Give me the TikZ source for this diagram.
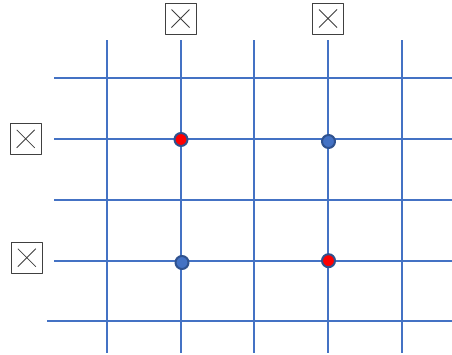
\documentclass[tikz,border=0pt]{standalone}
\usepackage{tikz}
\definecolor{gridblue}{HTML}{4472C4}
\definecolor{rimblue}{HTML}{2F528F}
\begin{document}
\begin{tikzpicture}[x=1pt,y=-1pt,
  line cap=butt,line join=round,
  G/.style={draw=gridblue,line width=1.1pt},
  box/.style={draw=black!75,line width=1pt,fill=white,minimum size=31pt,inner sep=0pt,
    path picture={\draw[black!75,line width=.8pt]
      ([shift={(-9pt,-9pt)}]path picture bounding box.center) -- ([shift={(9pt,9pt)}]path picture bounding box.center)
      ([shift={(-9pt,9pt)}]path picture bounding box.center) -- ([shift={(9pt,-9pt)}]path picture bounding box.center);}},
  qon/.style={draw=rimblue,line width=2pt,circle,fill=red,minimum size=13pt,inner sep=0pt},
  qoff/.style={draw=rimblue,line width=2pt,circle,fill=gridblue,minimum size=13pt,inner sep=0pt}]
  \useasboundingbox (0,0) rectangle (452,354);

  %% ---- vertical grid lines
  \draw[G] (107,40) -- (107,353);
  \draw[G] (181,40) -- (181,353);
  \draw[G] (254,40) -- (254,353);
  \draw[G] (328,40) -- (328,353);
  \draw[G] (402,40) -- (402,353);

  %% ---- horizontal grid lines
  \draw[G] (54,78) -- (452,78);
  \draw[G] (54,139) -- (452,139);
  \draw[G] (54,200) -- (452,200);
  \draw[G] (54,261) -- (452,261);
  \draw[G] (47,321) -- (452,321);

  %% ---- crossed boxes
  % top row
  \node[box] (topA) at (180.5,18.5) {};
  \node[box] (topB) at (328,18.5) {};
  % left column
  \node[box] (leftA) at (25.7,138.8) {};
  \node[box] (leftB) at (26.8,257.7) {};

  %% ---- dots on the crossings
  \node[qon]  (dotAA) at (181,139.5) {};
  \node[qoff] (dotAB) at (328.5,141.5) {};
  \node[qoff] (dotBA) at (182,262.5) {};
  \node[qon]  (dotBB) at (328.5,260.7) {};
\end{tikzpicture}
\end{document}
